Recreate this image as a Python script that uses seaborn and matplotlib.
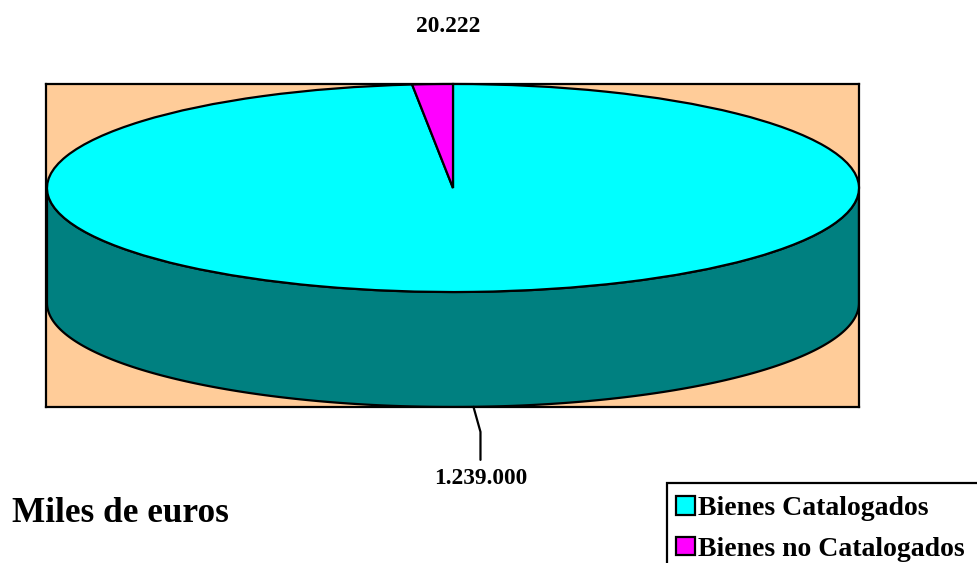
import numpy as np
import matplotlib
matplotlib.use('Agg')
import matplotlib.pyplot as plt
import seaborn as sns
from matplotlib.patches import Rectangle

# Data (miles de euros)
categorias = ['Bienes Catalogados', 'Bienes no Catalogados']
valores = [1239000, 20222]
etiquetas = ['1.239.000', '20.222']
colores_top = ['#00FFFF', '#FF00FF']
colores_lado = ['#008080', '#800080']

sns.set_style('white')
plt.rcParams['font.family'] = ['Liberation Serif', 'DejaVu Serif']
plt.rcParams['font.weight'] = 'bold'
plt.rcParams['text.color'] = 'black'

W, H = 977, 563
fig = plt.figure(figsize=(W / 100, H / 100), dpi=100)

# plot area in pixels (left, top, right, bottom)
pl, pt, pr, pb = 46, 84, 859, 407
ax = fig.add_axes([pl / W, 1 - pb / H, (pr - pl) / W, (pb - pt) / H])

# pie geometry in pixels
cx, cy = 453, 188
rx, ry = 406, 104
depth = 115 / ry
lw = 1.6

# top surface with the pie function, squashed through the axis limits
wedges, _ = ax.pie(valores, colors=colores_top, startangle=90, counterclock=False,
                   wedgeprops=dict(edgecolor='black', linewidth=lw))
for w in wedges:
    w.set_zorder(3)

# angles of each slice (degrees, parametric)
frac = np.array(valores) / sum(valores)
ends = 90 - 360 * np.cumsum(frac)
starts = np.r_[90, ends[:-1]]
mids = (starts + ends) / 2

# visible front wall (lower half of the ellipse)
for s, e, col in zip(starts, ends, colores_lado):
    a0, a1 = sorted([s, e])
    a0n = np.mod(a0, 360)
    a1n = a0n + (a1 - a0)
    lo, hi = max(a0n, 180), min(a1n, 360)
    if hi <= lo:
        continue
    t = np.radians(np.linspace(lo, hi, 200))
    xs = np.r_[np.cos(t), np.cos(t[::-1])]
    ys = np.r_[np.sin(t), np.sin(t[::-1]) - depth]
    ax.fill(xs, ys, color=col, ec='black', lw=lw, zorder=2)

ax.set_aspect('auto')
ax.set_xlim(-(cx - pl) / rx, (pr - cx) / rx)
ax.set_ylim(-(pb - cy) / ry, (cy - pt) / ry)
ax.set_facecolor('#FFCC99')
ax.set_frame_on(True)
for sp in ax.spines.values():
    sp.set_visible(True)
    sp.set_color('black')
    sp.set_linewidth(lw)
ax.set_xticks([])
ax.set_yticks([])

# data labels
m0 = np.radians(mids[0])
x0 = np.cos(m0)
y0 = np.sin(m0) - depth
ax.plot([x0, x0 + 7 / rx, x0 + 7 / rx], [y0, y0 - 25 / ry, y0 - 53 / ry],
        color='black', lw=lw, clip_on=False, zorder=4)
ax.text(x0 + 7 / rx, y0 - 72 / ry, etiquetas[0], ha='center', va='center',
        fontsize=16.8, fontweight='bold', clip_on=False)
m1 = np.radians(mids[1])
ax.text(np.cos(m1) + 16 / rx, np.sin(m1) + 58 / ry, etiquetas[1], ha='center',
        va='center', fontsize=16.8, fontweight='bold', clip_on=False)

fig.text(12 / W, 1 - 513 / H, 'Miles de euros', ha='left', va='center',
         fontsize=25.4, fontweight='bold')

# legend
fig.patches.append(Rectangle((667 / W, -0.05), 0.4, 1.05 - 483 / H,
                             transform=fig.transFigure, fill=False,
                             ec='black', lw=lw))
leg = fig.legend(wedges, categorias, loc='upper left',
                 bbox_to_anchor=(676 / W, 1 - 496 / H), frameon=False,
                 prop=dict(size=20, weight='bold'), handlelength=0.68,
                 handleheight=0.65, handletextpad=0.12, labelspacing=0.57,
                 borderpad=0, borderaxespad=0)

fig.savefig('out.png', dpi=100)
